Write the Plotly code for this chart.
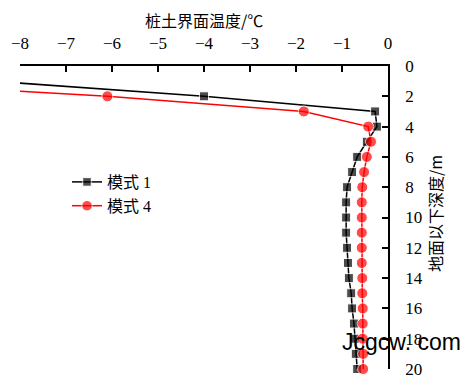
import plotly.graph_objects as go

depth = [1, 2, 3, 4, 5, 6, 7, 8, 9, 10, 11, 12, 13, 14, 15, 16, 17, 18, 19, 20]
mode1 = [-8.6, -4.0, -0.28, -0.24, -0.46, -0.67, -0.78, -0.89, -0.91, -0.91,
         -0.91, -0.89, -0.87, -0.85, -0.80, -0.78, -0.74, -0.72, -0.70, -0.67]
mode4 = [-11.7, -6.1, -1.83, -0.43, -0.37, -0.46, -0.52, -0.56, -0.57, -0.57,
         -0.57, -0.57, -0.57, -0.56, -0.56, -0.55, -0.55, -0.55, -0.54, -0.54]
names = ["模式 1", "模式 4"]
x_title = "桩土界面温度/℃"
y_title = "地面以下深度/m"
watermark = "Jcgcw. com"

fig = go.Figure()
sizes1 = [0] + [9] * (len(depth) - 1)
sizes4 = [0] + [11] * (len(depth) - 1)
fig.add_trace(go.Scatter(x=mode1, y=depth, name=names[0], mode="lines+markers",
                         line=dict(color="black", width=1.5),
                         marker=dict(symbol="square", size=sizes1, color="black"),
                         cliponaxis=False))
fig.add_trace(go.Scatter(x=mode4, y=depth, name=names[1], mode="lines+markers",
                         line=dict(color="#ff0000", width=1.5),
                         marker=dict(symbol="circle", size=sizes4, color="#ff0000"),
                         cliponaxis=False))

L, T, PW, PH = 12, 58, 368, 303
serif = "Liberation Serif, Noto Sans CJK SC"

fig.update_layout(
    width=469, height=381, autosize=False,
    margin=dict(l=L, r=469 - L - PW, t=T, b=381 - T - PH, pad=0),
    paper_bgcolor="white", plot_bgcolor="white",
    font=dict(family=serif, size=16, color="black"),
    showlegend=True,
    legend=dict(x=(59 - L) / PW, y=1 - (157 - T) / PH, xanchor="left", yanchor="top",
                bgcolor="rgba(0,0,0,0)", font=dict(size=16, family=serif),
                tracegroupgap=7, itemwidth=30),
    xaxis=dict(side="top", range=[-8, 0], dtick=1, showgrid=False, zeroline=False,
               showline=True, linecolor="black", linewidth=1.5, automargin=False,
               ticks="inside", ticklen=6, tickcolor="black", tickwidth=1.5,
               ticklabelstandoff=8, tickfont=dict(size=17, family=serif)),
    yaxis=dict(side="right", range=[20, 0], dtick=2, showgrid=False, zeroline=False,
               showline=True, linecolor="black", linewidth=1.5, automargin=False,
               ticks="inside", ticklen=6, tickcolor="black", tickwidth=1.5,
               ticklabelstandoff=12, tickfont=dict(size=17, family=serif)),
    annotations=[
        dict(text=x_title, xref="paper", yref="paper", x=(196 - L) / PW, y=1,
             yshift=T - 12, showarrow=False, xanchor="center", yanchor="middle",
             font=dict(size=16, family="Noto Sans CJK SC")),
        dict(text=y_title, xref="paper", yref="paper", x=1, xshift=427 - (L + PW),
             y=1 - (206 - T) / PH, textangle=-90, showarrow=False, xanchor="center",
             yanchor="middle", font=dict(size=16, family="Noto Sans CJK SC")),
        dict(text=watermark, xref="paper", yref="paper", x=(393 - L) / PW,
             y=(T + PH - 334) / PH, showarrow=False, xanchor="center", yanchor="middle",
             font=dict(size=23, family="Liberation Sans", color="black")),
    ],
)

fig.write_html("out.html")
